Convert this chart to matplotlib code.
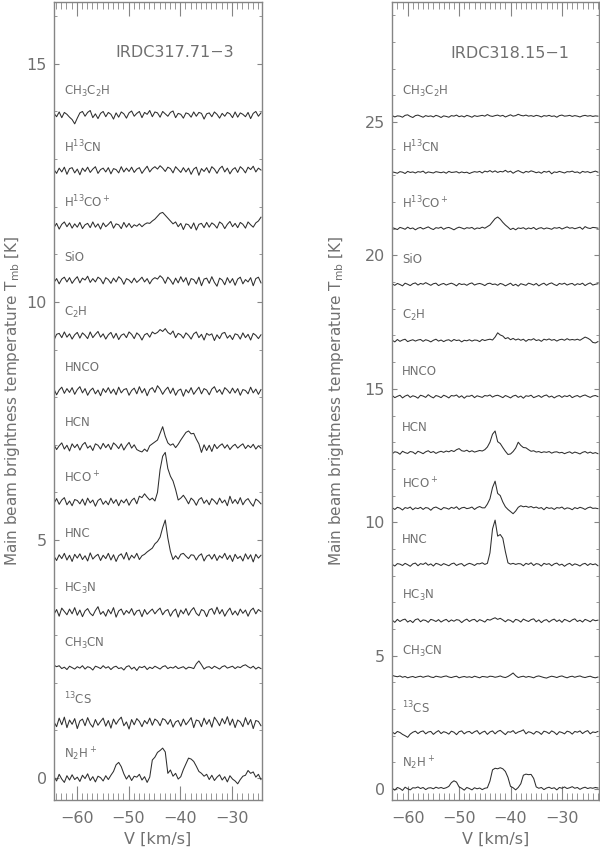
import numpy as np
import matplotlib.pyplot as plt
from matplotlib.ticker import MultipleLocator

# Channel grid (0.5 km/s) - first channel velocity of each panel
CHAN = 0.5
V0_LEFT = -64.4
V0_RIGHT = -63.0

# Lines, bottom to top
labels = ['N$_2$H$^+$', '$^{13}$CS', 'CH$_3$CN', 'HC$_3$N', 'HNC', 'HCO$^+$', 'HCN',
          'HNCO', 'C$_2$H', 'SiO', 'H$^{13}$CO$^+$', 'H$^{13}$CN', 'CH$_3$C$_2$H']

# ---- IRDC317.71-3 spectra, Tmb in units of 0.01 K ----
l_n2h = [3, -6, 8, -2, -9, 5, -4, 7, -3, 2,
         -7, 6, -1, 9, -5, 3, -8, 4, 1, -6,
         5, -3, 6, 14, 28, 33, 24, 9, -2, 6,
         -5, 4, 2, 8, -4, 3, -9, 2, 38, 44,
         54, 58, 63, 55, 10, 17, 4, 10, -2, 3,
         18, 30, 42, 40, 35, 25, 14, 10, 4, 8,
         -3, 6, -5, 2, 7, -4, 3, -8, 5, -2,
         -6, -12, -3, 4, 6, 16, 10, 13, 2, 8,
         -3]
l_13cs = [2, -8, 10, -4, 12, -10, 6, -3, 9, -12,
          4, 8, -6, 11, -2, -9, 7, -5, 3, 10,
          -7, 5, -11, 8, -3, 6, 12, -6, 2, -13,
          7, -4, 9, 3, -8, 5, -2, 10, -5, 8,
          4, -6, 9, 6, -3, 7, -9, 2, 5, -7,
          8, -4, 3, 11, -10, 6, 4, -8, 10, -3,
          7, -9, 12, 4, -6, 9, -2, 13, -5, 8,
          -10, 6, 2, -8, 11, -4, 7, -12, 5, 3,
          -6]
l_ch3cn = [5, 2, 4, -2, 1, -4, 3, 0, -3, 2,
           -1, 4, -3, 2, 0, -5, 3, 1, -2, 4,
           -1, 2, -4, 1, 3, -2, 0, -5, 2, 4,
           -3, 1, -6, 2, 0, 3, -4, 1, -2, 3,
           0, -3, 2, 4, -2, 1, -1, 3, -2, 0,
           2, -3, 1, 0, -2, 8, 14, 6, -3, 1,
           2, -2, 3, 0, -3, 2, 4, -1, 1, 3,
           -2, 2, 0, 4, 6, 2, -1, 3, -3, 1,
           -2]
l_hc3n = [-4, 6, -8, 9, 2, -5, 7, -3, 10, -6,
          5, -9, 3, 8, -2, -7, 4, 12, -4, 2,
          -8, 6, -3, 10, -10, 3, 7, -5, 4, -2,
          8, -6, 3, 5, -9, 6, -4, 2, 7, -3,
          4, 9, -5, 3, 6, -8, 2, 7, -10, 5,
          -3, 8, -6, 4, 10, -2, -7, 6, 3, -9,
          5, 8, -4, 11, -3, 6, -8, 2, 9, -5,
          3, -6, 7, -2, 5, -8, 4, 9, -3, 6,
          2]
l_hnc = [2, -7, 5, -3, 8, -6, 4, -9, 6, -2,
         7, -5, 3, -8, 9, -4, 2, 6, -7, 4,
         -3, 8, -6, 5, -9, 3, 7, -4, 10, -6,
         4, -2, 8, -5, 3, 6, 11, 15, 19, 28,
         33, 42, 62, 78, 40, 12, -5, 3, -4, 6,
         8, 2, -3, 5, 4, -6, 3, 7, -8, 2,
         5, -4, 6, -7, 3, -2, 8, -5, 4, -9,
         6, -3, 2, -8, 7, -4, 5, -10, 6, -2,
         4]
l_hcop = [-3, 7, -5, 4, 9, -6, 2, -8, 5, 3,
          -4, 6, -7, 8, -2, 4, -9, 3, 7, -5,
          2, -6, 8, -3, 5, -8, 4, -2, 6, -7,
          3, 8, -4, 12, 9, 17, 10, 4, 8, 2,
          20, 68, 96, 104, 70, 54, 44, 26, 4, 8,
          14, 6, -4, 8, 3, -7, 5, 9, -3, 4,
          -6, 7, 2, -5, 8, -2, 4, -8, 12, -3,
          5, -4, 9, -6, 3, 7, -2, -9, 6, 2,
          -4]
l_hcn = [4, -6, 2, 8, -5, 3, -9, 6, -2, 5,
         -7, 4, 9, -3, 2, -8, 6, 3, -5, 7,
         -2, 5, -6, 8, 3, -4, 6, -7, 2, 9,
         -3, 4, -6, -9, -11, -5, -10, 2, 6, 10,
         14, 28, 42, 22, 8, 3, 6, -2, 5, 14,
         22, 30, 33, 27, 28, 16, 6, -12, 4, -8,
         3, -10, 5, -4, 2, 6, -3, 4, -6, 1,
         5, -3, 2, 6, -4, 3, -2, 5, -5, 2,
         -3]
l_hnco = [5, -7, 3, 9, -4, 6, -2, 8, -6, 4,
          10, -3, 6, -8, 2, 7, -5, 3, -9, 6,
          -2, 8, -4, 5, -7, 9, -3, 4, 6, -8,
          2, 7, -5, 10, -3, 6, -9, 4, 8, -2,
          12, 5, -6, 3, 9, -4, 7, -8, 2, 5,
          -10, 4, -3, 8, -6, 2, 9, -5, 6, 3,
          -7, 5, 10, -2, 4, -6, 8, 3, -4, 7,
          -3, 6, -8, 4, 2, -5, 9, -3, 5, -6,
          4]
l_c2h = [-8, 4, 6, -3, 9, -2, 5, -6, 3, 8,
         -4, 7, 2, -5, 9, -3, 4, 10, -2, 5,
         -6, 3, 8, -4, 6, -7, 2, 5, -3, 9,
         4, -5, 7, 2, -8, 3, 6, -2, 9, 5,
         8, 14, 10, 16, 8, 4, 11, -3, 6, 3,
         -4, 7, 2, -6, 5, 9, -3, 4, -8, 6,
         2, 5, -9, 3, -5, 6, 8, -4, 2, -7,
         5, 3, -6, 7, -3, 4, -8, 6, 2, -5,
         3]
l_sio = [-3, 5, -6, 4, 8, -2, 7, -5, 3, 9,
         -4, 6, 2, 10, -3, 5, -2, 8, 4, -6,
         7, 3, -5, 6, -2, 9, 4, -7, 5, 2,
         -4, 6, -3, 2, 8, -2, 5, -6, 3, 7,
         4, 11, 6, -5, 8, 2, -7, 6, -4, 9,
         -2, 7, -9, 5, 3, -6, 8, -10, 4, 6,
         -5, 9, -3, -11, 6, 2, -8, 7, -4, 5,
         -9, 4, 8, -6, 3, -2, 7, -10, 5, 8,
         -4]
l_h13cop = [-4, 5, -7, 3, 8, -2, 6, -5, 4, -3,
            7, -6, 2, 5, -4, 8, -3, 4, -7, 6,
            -2, 3, 9, -5, 4, 2, -6, 7, -3, 5,
            -4, 2, -1, 4, -2, 3, 6, 5, 10, 14,
            20, 26, 28, 22, 16, 10, 4, 8, -2, 5,
            -8, 4, 2, -6, 6, -9, 3, 5, -4, 7,
            -3, 6, 2, -5, 8, 4, -6, 3, 9, -2,
            5, -4, 7, 3, -5, 8, 2, -3, 6, 10,
            18]
l_h13cn = [2, -6, 5, -3, 7, -8, 4, 6, -5, 3,
           -9, 5, -2, 7, -4, 3, 8, -6, 2, 5,
           -3, 6, -7, 4, 2, -5, 8, -3, 5, -2,
           7, -4, 3, 6, -6, 2, 9, -3, 4, 8,
           3, 10, 5, -2, 7, 4, -5, 8, 2, -4,
           6, -3, 5, -8, 3, 7, -10, 4, -2, 6,
           -5, 8, 3, -6, 4, 9, -3, 5, -7, 2,
           6, -4, 8, 3, -5, 7, 2, 9, -3, 5,
           1]
l_ch3c2h = [4, -3, 7, -5, 6, 2, -4, -9, -18, -6,
            5, 8, -2, 6, 10, -5, 3, -7, 4, 8,
            -3, 6, 2, -8, 5, -4, 7, 3, -6, 5,
            9, -2, 4, 8, -5, 6, 2, 10, -3, 7,
            5, -4, 8, 3, -2, 6, 9, -5, 4, 2,
            -6, 5, 3, -4, 7, -2, 6, 4, -8, 3,
            5, -3, 7, 2, -6, 4, -2, 6, 3, -5,
            7, -4, 5, 2, -3, 6, -7, 4, 8, -2,
            5]

# ---- IRDC318.15-1 spectra, Tmb in units of 0.01 K ----
r_n2h = [3, -4, 6, 2, -5, 7, 1, -3, 5, 4,
         8, 2, 6, -2, 4, 5, 1, 7, 3, 6,
         2, 5, 10, 24, 31, 26, 8, 3, -4, 6,
         2, -3, 5, 1, 4, -2, 3, 5, 30, 72,
         78, 76, 80, 76, 66, 44, 10, 5, -3, 6,
         20, 52, 56, 54, 55, 40, 8, 3, 6, -2,
         4, 7, 2, 5, -3, 6, 3, 8, 2, 5,
         9, 3, 6, -1, 4, 7, 2, 5, 3, 6,
         4]
r_13cs = [4, -3, 6, 2, -5, -10, -16, -4, 3, 7,
          -2, 5, 8, -3, 4, 6, -5, 3, 9, -2,
          5, 2, -4, 7, 3, -6, 5, 8, -3, 4,
          6, -2, 5, 9, -4, 3, 7, -5, 4, 8,
          -3, 6, 10, 2, -6, 5, 3, 9, -2, 4,
          7, 12, -3, 5, 2, -4, 6, 3, -5, 7,
          4, -2, 8, 3, -6, 5, 2, -3, 7, 4,
          -4, 6, 3, 8, -2, 5, 9, -3, 4, 2,
          6]
r_ch3cn = [6, 3, 1, 4, -1, 2, -3, 0, 2, -2,
           1, 3, -1, 2, 4, 0, -2, 3, 1, -1,
           2, 4, 0, -2, 1, 3, -3, 0, 2, -1,
           1, -2, 3, 0, -3, 2, 1, -1, 3, 2,
           -1, 1, 4, 0, -2, 2, 8, 15, 5, -2,
           1, 3, -1, 2, 0, -3, 2, 4, 1, -2,
           -4, 0, 3, 1, -2, 2, 4, 0, -3, 1,
           3, -1, 2, 4, 0, -2, 1, 3, -1, -3,
           0]
r_hc3n = [3, -5, 6, -2, 4, 7, -4, 2, -6, 5,
          8, -3, 4, 2, -5, 6, 3, -2, 5, -4,
          2, 6, -3, 4, -1, 5, 3, -6, 2, 7,
          -2, 4, 6, -3, 5, 1, -4, 6, 3, 8,
          12, 6, 10, 4, -3, 5, 2, -5, 6, 3,
          -4, 7, 2, -2, 5, 8, -3, 4, -6, 2,
          5, -4, 3, 7, -2, 4, -5, 6, 2, -3,
          4, 8, -2, 3, -4, 6, 2, -3, 5, 1,
          3]
r_hnc = [2, -4, 5, 3, -2, 6, 1, -5, 4, 7,
         -3, 5, 2, 8, -1, 4, -4, 6, 3, -2,
         5, 1, -3, 4, 7, -2, 3, 5, -4, 2,
         6, 3, -2, 5, 4, 8, 2, 6, 45, 135,
         168, 108, 114, 100, 50, 8, 3, 6, 2, 5,
         4, -3, 6, 2, 8, -2, 5, 3, -4, 6,
         2, 5, -3, 4, 7, -1, 3, -5, 2, 6,
         -2, 4, 1, -4, 3, 6, -2, 5, 1, 4,
         -3]
r_hcop = [4, -2, 6, 3, -4, 5, 2, 7, -3, 4,
          1, 6, -2, 5, 3, -5, 4, 7, 2, -3,
          5, 3, -1, 6, 2, 8, -2, 4, 6, 1,
          3, 7, -2, 5, 9, 4, 4, 18, 38, 80,
          104, 58, 50, 26, 8, -2, -10, -18, -8, 6,
          12, 8, 10, 6, 9, 4, 7, 2, 5, -3,
          6, 2, 4, -2, 5, 3, 7, -1, 4, 2,
          -3, 5, 1, 6, 3, -2, 4, 7, 2, 3,
          1]
r_hcn = [-3, 4, 2, -5, 6, 1, -2, 5, 3, -4,
         6, 2, -3, 4, 8, 1, 5, -2, 3, 6,
         2, 7, 4, 9, 5, 12, 16, 8, 6, 10,
         4, 8, 3, 6, 9, 7, 12, 22, 40, 70,
         82, 42, 35, 20, 6, -6, -4, 5, 18, 40,
         28, 20, 19, 12, 6, 8, 3, 5, 1, 4,
         2, 5, -1, 3, 4, 0, 2, -3, 1, 4,
         -2, 3, 0, -4, 2, 5, -1, 3, -2, 1,
         -3]
r_hnco = [5, -3, 2, 6, -4, 3, 7, -2, 4, 1,
          -5, 6, 3, -2, 8, 1, -4, 5, 2, -3,
          6, 2, -4, 5, 3, 7, -2, 4, -5, 3,
          2, 6, -3, 4, 1, -2, 5, 3, 7, -1,
          4, 6, 2, -3, 5, 1, -4, 3, 6, -2,
          3, -5, 4, 2, 6, -3, 1, 5, -2, 4,
          7, -1, 3, -4, 2, 5, -2, 4, 1, 6,
          -3, 2, 5, -1, 4, 7, 2, -2, 3, 5,
          1]
r_c2h = [2, -4, 5, -2, 3, 6, -3, 1, 4, -1,
         3, 5, -2, 4, 1, -4, 2, 6, -1, 3,
         -3, 2, 4, -2, 5, 1, 3, -4, 2, 0,
         4, -1, 3, 2, -3, 5, 1, 4, 6, 3,
         14, 30, 22, 18, 8, 12, 4, 9, 3, 7,
         2, 6, -2, 5, 3, 8, 1, 4, -2, 6,
         3, 7, 2, 5, -1, 4, 6, 2, 8, 3,
         5, 3, 6, 2, 8, 14, 10, 4, -6, -8,
         -3]
r_sio = [3, -2, 5, 1, -4, 6, 2, -3, 4, 7,
         -1, 5, 2, 8, 3, -2, 4, 6, -3, 2,
         5, -1, 3, 6, 2, -4, 5, 1, 3, -2,
         4, 7, -1, 3, 5, 2, -3, 4, 6, 1,
         3, -2, 5, 2, -4, 1, 6, -3, 2, -5,
         4, 1, -2, 6, 3, -1, 5, -4, 2, 6,
         -2, 4, 7, 1, -3, 5, 2, 6, -1, 3,
         5, -2, 4, 1, 6, -3, 3, 7, -1, 2,
         4]
r_h13cop = [4, 1, -3, 5, 2, -2, 6, 0, 3, -4,
            2, 5, -1, 3, 7, 1, -3, 4, 2, 6,
            -2, 3, 5, 1, -4, 2, 6, 3, -1, 4,
            2, 5, -2, 3, 1, 6, 2, 8, 14, 26,
            38, 44, 36, 24, 14, 6, -3, 2, -4, 3,
            1, 4, -2, 3, 0, 5, -3, 2, 4, -1,
            3, 1, -2, 4, 2, 5, -1, 3, 7, 2,
            4, 0, 3, 6, -2, 8, 3, 1, 5, 4,
            2]
r_h13cn = [3, 1, -2, 4, 2, -3, 5, 1, 3, -1,
           4, 2, 6, -2, 3, 1, -1, 4, 2, 0,
           3, -2, 5, 1, 2, 4, -1, 3, 0, 2,
           -3, 1, 4, 2, 5, -1, 6, 3, 8, 2,
           7, 1, 5, 3, 9, 2, 6, -2, 4, 8,
           3, -1, 5, 2, 7, 4, 0, 3, -2, 5,
           2, 6, -4, 3, 1, 5, 2, -1, 4, 3,
           6, 1, 3, -2, 5, 2, 4, 0, 3, 6,
           2]
r_ch3c2h = [4, -1, 3, 2, -2, 5, 7, 1, -3, 4,
            6, 2, -2, 4, 1, 3, -1, 5, 2, -3,
            3, 1, -2, 4, 2, 6, 0, 3, -1, 5,
            2, -2, 4, 1, 3, 5, 2, 8, 3, 1,
            4, 6, 2, 5, -1, 3, 7, 2, 4, 9,
            5, 3, 6, 2, 4, 1, 5, 3, -1, 4,
            2, 5, 1, 3, -2, 4, 6, 2, 3, 5,
            1, 4, 2, -1, 3, 5, 2, 4, 1, 3,
            2]

left_spectra = [l_n2h, l_13cs, l_ch3cn, l_hc3n, l_hnc, l_hcop, l_hcn,
                l_hnco, l_c2h, l_sio, l_h13cop, l_h13cn, l_ch3c2h]
right_spectra = [r_n2h, r_13cs, r_ch3cn, r_hc3n, r_hnc, r_hcop, r_hcn,
                 r_hnco, r_c2h, r_sio, r_h13cop, r_h13cn, r_ch3c2h]

LINE_COLOR = '#2e2e2e'
TEXT_COLOR = '#707070'
AXIS_COLOR = '#858585'

plt.rcParams['font.family'] = 'DejaVu Sans'
plt.rcParams['mathtext.default'] = 'regular'


def draw_panel(ax, v0, spectra, step, label_dy, title, title_xy, xlim, ylim):
    for k, spec in enumerate(spectra):
        off = k * step
        vel = v0 + CHAN * np.arange(len(spec))
        ax.plot(vel, np.array(spec) / 100.0 + off, color=LINE_COLOR, lw=0.75)
        ax.text(0.05, off + label_dy, labels[k], transform=ax.get_yaxis_transform(),
                ha='left', va='center', fontsize=8.5, color=TEXT_COLOR)

    ax.text(title_xy[0], title_xy[1], title, transform=ax.transAxes,
            ha='center', va='center', fontsize=11.5, color=TEXT_COLOR)

    ax.set_xlim(*xlim)
    ax.set_ylim(*ylim)
    ax.set_xticks([-60, -50, -40, -30])
    ax.xaxis.set_minor_locator(MultipleLocator(1))
    ax.yaxis.set_major_locator(MultipleLocator(5))
    ax.yaxis.set_minor_locator(MultipleLocator(1))
    ax.tick_params(which='both', direction='in', top=True, right=True,
                   color=AXIS_COLOR, labelcolor=TEXT_COLOR, labelsize=11.5)
    ax.tick_params(axis='x', which='major', length=10, pad=8)
    ax.tick_params(axis='x', which='minor', length=5)
    ax.tick_params(axis='y', which='major', length=3.5, pad=5)
    ax.tick_params(axis='y', which='minor', length=2)
    for sp in ax.spines.values():
        sp.set_color(AXIS_COLOR)
        sp.set_linewidth(1.0)

    ax.set_xlabel('V [km/s]', fontsize=11.5, color=TEXT_COLOR)
    ax.set_ylabel('Main beam brightness temperature T$_{mb}$ [K]',
                  fontsize=11, color=TEXT_COLOR)


fig = plt.figure(figsize=(6, 8.49), dpi=100)
ax1 = fig.add_axes([0.09, 0.0577, 0.3467, 0.94])
ax2 = fig.add_axes([0.6533, 0.0577, 0.345, 0.94])

draw_panel(ax1, V0_LEFT, left_spectra, 1.16, 0.5, 'IRDC317.71\u22123', (0.58, 0.937),
           (-64.4, -24.2), (-0.46, 16.3))
draw_panel(ax2, V0_RIGHT, right_spectra, 2.1, 0.95, 'IRDC318.15\u22121', (0.57, 0.936),
           (-63.05, -22.8), (-0.41, 29.5))

ax1.yaxis.set_label_coords(-0.155, 0.5)
ax2.yaxis.set_label_coords(-0.22, 0.5)

fig.savefig('out.png', dpi=100)
